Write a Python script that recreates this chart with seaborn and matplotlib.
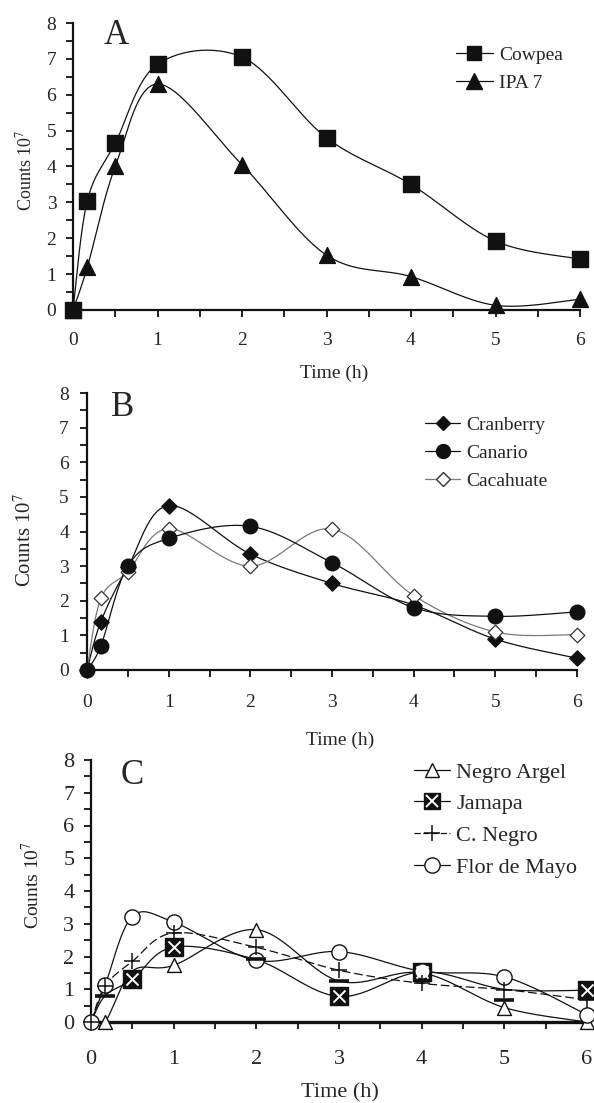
import numpy as np
import seaborn as sns
import matplotlib.pyplot as plt
from matplotlib.lines import Line2D
from matplotlib.ticker import MultipleLocator

sns.set_style("ticks")
plt.rcParams["font.family"] = ["Liberation Serif", "DejaVu Serif"]
plt.rcParams["mathtext.fontset"] = "stix"

# sampling times (h)
time_h = [0, 0.17, 0.5, 1, 2, 3, 4, 5, 6]

# panel A
cowpea = [0, 3.05, 4.65, 6.85, 7.05, 4.8, 3.5, 1.92, 1.42]
ipa7 = [0, 1.2, 4.0, 6.3, 4.05, 1.53, 0.93, 0.13, 0.3]

# panel B
cranberry = [0, 1.4, 2.97, 4.75, 3.35, 2.5, 1.88, 0.89, 0.34]
canario = [0, 0.7, 3.0, 3.8, 4.15, 3.1, 1.8, 1.55, 1.68]
cacahuate = [0, 2.07, 2.84, 4.08, 3.0, 4.07, 2.15, 1.1, 1.02]

# panel C
negro_argel = [0, 0, 1.55, 1.73, 2.82, 1.25, 1.5, 0.44, 0]
jamapa = [0, 0.8, 1.3, 2.29, 1.9, 0.78, 1.53, 1.0, 0.97]
c_negro = [0, 1.1, 1.85, 2.72, 2.28, 1.58, 1.18, 0.99, 0.68]
flor_de_mayo = [0, 1.12, 3.22, 3.05, 1.88, 2.15, 1.55, 1.38, 0.22]

# stray bar marks printed in panel C
dash_time = [0.17, 2, 3, 5]
dash_counts = [0.8, 1.93, 1.25, 0.68]


def smooth_curve(x, y, n=30):
    # Excel-style smoothed line (Bezier with 1/6 tangents)
    x = np.asarray(x, float)
    y = np.asarray(y, float)
    pts = np.column_stack([x, y])
    out = [pts[0]]
    for i in range(len(pts) - 1):
        p_prev = pts[max(i - 1, 0)]
        p_next = pts[min(i + 2, len(pts) - 1)]
        p0, p3 = pts[i], pts[i + 1]
        c1 = p0 + (p3 - p_prev) / 6
        c2 = p3 - (p_next - p0) / 6
        t = np.linspace(0, 1, n)[1:, None]
        seg = (1 - t) ** 3 * p0 + 3 * (1 - t) ** 2 * t * c1 + 3 * (1 - t) * t ** 2 * c2 + t ** 3 * p3
        out.extend(seg)
    out = np.array(out)
    return out[:, 0], out[:, 1]


def style_axes(ax, tick_size, xpad, ypad):
    sns.despine(ax=ax)
    ax.set_xlim(0, 6)
    ax.set_ylim(0, 8)
    ax.xaxis.set_major_locator(MultipleLocator(1))
    ax.xaxis.set_minor_locator(MultipleLocator(0.5))
    ax.yaxis.set_major_locator(MultipleLocator(1))
    ax.yaxis.set_minor_locator(MultipleLocator(0.5))
    for side in ["left", "bottom"]:
        ax.spines[side].set_linewidth(1.6)
        ax.spines[side].set_color("#111111")
    ax.tick_params(which="both", direction="out", length=5, width=1.3, color="#111111")
    ax.tick_params(axis="x", which="major", pad=xpad, labelsize=tick_size)
    ax.tick_params(axis="y", which="major", pad=ypad, labelsize=tick_size)
    ax.set_xlabel("")
    ax.set_ylabel("")
    ax.grid(False)


def draw_series(ax, y, marker, size, face, edge, color="#111111", ls="-", lw=0.9, mew=1.0, hide=()):
    xs, ys = smooth_curve(time_h, y)
    ax.plot(xs, ys, color=color, linestyle=ls, lw=lw, clip_on=False, zorder=2)
    # some markers are covered by other symbols in the original print
    mx = [t for i, t in enumerate(time_h) if i not in hide]
    my = [v for i, v in enumerate(y) if i not in hide]
    sns.scatterplot(x=mx, y=my, ax=ax, marker=marker, s=size, color=face,
                    edgecolor=edge, linewidth=mew, clip_on=False, zorder=4, legend=False)
    return mx, my


fig = plt.figure(figsize=(5.94, 11.03), dpi=100)
W, H = 594, 1103


def add_axes_px(left, right, top, bottom):
    return fig.add_axes([left / W, 1 - bottom / H, (right - left) / W, (bottom - top) / H])


# ---------------- Panel A ----------------
axA = add_axes_px(73, 580, 23, 310)
draw_series(axA, ipa7, "^", 130, "#111111", "#111111")
draw_series(axA, cowpea, "s", 120, "#111111", "#111111")
style_axes(axA, 14, 11, 7)
handlesA = [
    Line2D([], [], color="#111111", lw=0.9, marker="s", ms=10, mfc="#111111", mec="#111111"),
    Line2D([], [], color="#111111", lw=0.9, marker="^", ms=11, mfc="#111111", mec="#111111"),
]
fig.legend(handlesA, ["Cowpea", "IPA 7"], loc="upper left", bbox_to_anchor=(456 / W, 1 - 46 / H),
           frameon=False, fontsize=14, handlelength=1.9, handletextpad=0.3, labelspacing=0.55,
           borderpad=0, borderaxespad=0)
fig.text(116 / W, 1 - 36 / H, "A", fontsize=25, ha="center", va="center")
fig.text(25 / W, 1 - 170 / H, r"Counts 10$^{7}$", rotation=90, fontsize=13, ha="center", va="center")
fig.text(334 / W, 1 - 373 / H, "Time (h)", fontsize=14, ha="center", va="center")

# ---------------- Panel B ----------------
axB = add_axes_px(87, 577, 393, 670)
draw_series(axB, cranberry, "D", 60, "#111111", "#111111")
draw_series(axB, cacahuate, "D", 55, "white", "#333333", color="#7a7a7a", lw=0.9, mew=0.9)
draw_series(axB, canario, "o", 110, "#111111", "#111111")
style_axes(axB, 14, 12, 8)
handlesB = [
    Line2D([], [], color="#111111", lw=0.9, marker="D", ms=7.5, mfc="#111111", mec="#111111"),
    Line2D([], [], color="#111111", lw=0.9, marker="o", ms=10, mfc="#111111", mec="#111111"),
    Line2D([], [], color="#7a7a7a", lw=0.9, marker="D", ms=7, mfc="white", mec="#333333"),
]
fig.legend(handlesB, ["Cranberry", "Canario", "Cacahuate"], loc="upper left",
           bbox_to_anchor=(425 / W, 1 - 416 / H), frameon=False, fontsize=14, handlelength=1.8,
           handletextpad=0.3, labelspacing=0.55, borderpad=0, borderaxespad=0)
fig.text(123 / W, 1 - 408 / H, "B", fontsize=25, ha="center", va="center")
fig.text(25 / W, 1 - 540 / H, r"Counts 10$^{7}$", rotation=90, fontsize=15, ha="center", va="center")
fig.text(340 / W, 1 - 740 / H, "Time (h)", fontsize=14, ha="center", va="center")

# ---------------- Panel C ----------------
axC = add_axes_px(91, 587, 760, 1022)
draw_series(axC, negro_argel, "^", 100, "white", "#111111", mew=1.0, hide=(0, 2, 5))
jx, jy = draw_series(axC, jamapa, "s", 150, "#111111", "#111111", hide=(0, 1, 4, 7))
sns.scatterplot(x=jx, y=jy, ax=axC, marker="x", s=75, color="white", linewidth=1.4,
                clip_on=False, zorder=5, legend=False)
draw_series(axC, flor_de_mayo, "o", 120, "white", "#111111", mew=1.0)
draw_series(axC, c_negro, "+", 130, "#111111", "#111111", ls=(0, (7, 3)), mew=1.1)
sns.scatterplot(x=dash_time, y=dash_counts, ax=axC, marker="_", s=200, color="#111111",
                linewidth=2.6, clip_on=False, zorder=5, legend=False)
style_axes(axC, 16, 15, 7)
axC.spines["bottom"].set_linewidth(2.4)
jam_sq = Line2D([], [], color="#111111", lw=0.9, marker="s", ms=12, mfc="#111111", mec="#111111")
jam_x = Line2D([], [], color="none", marker="x", ms=8.5, mec="white", mew=1.4)
handlesC = [
    Line2D([], [], color="#111111", lw=0.9, marker="^", ms=10, mfc="white", mec="#111111"),
    (jam_sq, jam_x),
    Line2D([], [], color="#111111", lw=0.9, ls=(0, (5, 2)), marker="+", ms=11, mec="#111111", mew=1.1),
    Line2D([], [], color="#111111", lw=0.9, marker="o", ms=11, mfc="white", mec="#111111"),
]
fig.legend(handlesC, ["Negro Argel", "Jamapa", "C. Negro", "Flor de Mayo"], loc="upper left",
           bbox_to_anchor=(414 / W, 1 - 762 / H), frameon=False, fontsize=16, handlelength=1.6,
           handletextpad=0.3, labelspacing=0.5, borderpad=0, borderaxespad=0)
fig.text(132 / W, 1 - 776 / H, "C", fontsize=25, ha="center", va="center")
fig.text(32 / W, 1 - 885 / H, r"Counts 10$^{7}$", rotation=90, fontsize=14, ha="center", va="center")
fig.text(340 / W, 1 - 1093 / H, "Time (h)", fontsize=16, ha="center", va="center")

fig.savefig("out.png", dpi=100)
